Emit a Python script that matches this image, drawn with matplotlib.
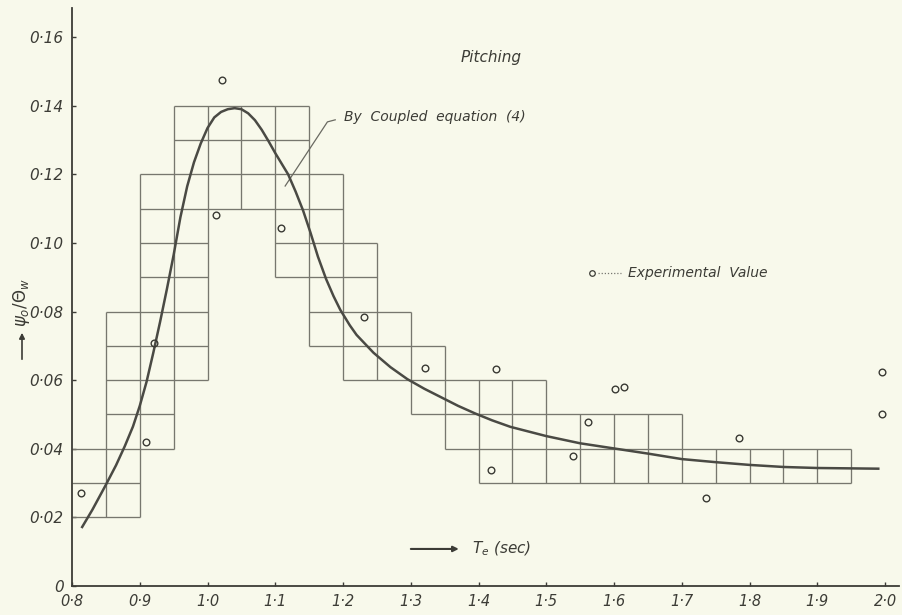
import numpy as np
import matplotlib
matplotlib.use("Agg")
import matplotlib.pyplot as plt

# --- data ---
# theoretical curve (by coupled equation)
curve_x = [0.815, 0.83, 0.85, 0.865, 0.878, 0.89, 0.90, 0.91, 0.92, 0.93,
           0.94, 0.95, 0.96, 0.97, 0.98, 0.99, 1.00, 1.01, 1.02, 1.03,
           1.04, 1.05, 1.06, 1.07, 1.08, 1.09, 1.10, 1.119, 1.13, 1.141,
           1.152, 1.163, 1.175, 1.186, 1.196, 1.21, 1.22, 1.245, 1.27, 1.295,
           1.32, 1.347, 1.37, 1.395, 1.42, 1.447, 1.50, 1.55, 1.60, 1.65,
           1.70, 1.75, 1.80, 1.85, 1.90, 1.99]
curve_y = [0.0172, 0.0222, 0.0295, 0.0352, 0.0408, 0.0465, 0.0525, 0.0595, 0.0680, 0.0770,
           0.0865, 0.0965, 0.1075, 0.1165, 0.1235, 0.1290, 0.1335, 0.1366, 0.1382, 0.1390,
           0.1393, 0.1390, 0.1378, 0.1358, 0.1330, 0.1297, 0.1262, 0.1200, 0.1150, 0.1095,
           0.1030, 0.0960, 0.0895, 0.0845, 0.0805, 0.0760, 0.0732, 0.0680, 0.0638, 0.0603,
           0.0575, 0.0548, 0.0525, 0.0503, 0.0483, 0.0464, 0.0437, 0.0416, 0.0401, 0.0386,
           0.0370, 0.0361, 0.0353, 0.0347, 0.0344, 0.0342]

# experimental values
exp_x = [0.813, 0.909, 0.921, 1.013, 1.022, 1.109, 1.231, 1.321, 1.419, 1.426,
         1.539, 1.561, 1.602, 1.615, 1.736, 1.785, 1.995, 1.995]
exp_y = [0.0271, 0.042, 0.0708, 0.1082, 0.1475, 0.1044, 0.0784, 0.0635, 0.0337, 0.0632,
         0.038, 0.0477, 0.0573, 0.0579, 0.0256, 0.0432, 0.050, 0.0625]

# hand drawn squared blocks: horizontal (y, x0, x1) and vertical (x, y0, y1)
h_lines = [(0.14, 0.95, 1.15), (0.13, 0.95, 1.15), (0.12, 0.90, 1.20), (0.11, 0.90, 1.20),
           (0.10, 0.90, 1.00), (0.09, 0.90, 1.00), (0.10, 1.10, 1.25), (0.09, 1.10, 1.25),
           (0.08, 0.85, 1.00), (0.07, 0.85, 1.00), (0.06, 0.85, 1.00), (0.05, 0.85, 0.95),
           (0.04, 0.80, 0.95), (0.03, 0.80, 0.90), (0.02, 0.80, 0.90),
           (0.08, 1.15, 1.30), (0.07, 1.15, 1.35), (0.06, 1.20, 1.50), (0.05, 1.30, 1.70),
           (0.04, 1.35, 1.95), (0.03, 1.40, 1.95)]
v_lines = [(0.85, 0.02, 0.08), (0.90, 0.02, 0.12), (0.95, 0.04, 0.14), (1.00, 0.06, 0.14),
           (1.05, 0.11, 0.14), (1.10, 0.09, 0.14), (1.15, 0.07, 0.14), (1.20, 0.06, 0.12),
           (1.25, 0.06, 0.10), (1.30, 0.05, 0.08), (1.35, 0.04, 0.07), (1.40, 0.03, 0.06),
           (1.45, 0.03, 0.06), (1.50, 0.03, 0.06), (1.55, 0.03, 0.05), (1.60, 0.03, 0.05),
           (1.65, 0.03, 0.05), (1.70, 0.03, 0.05), (1.75, 0.03, 0.04), (1.80, 0.03, 0.04),
           (1.85, 0.03, 0.04), (1.90, 0.03, 0.04), (1.95, 0.03, 0.04)]

x_ticks = [0.8, 0.9, 1.0, 1.1, 1.2, 1.3, 1.4, 1.5, 1.6, 1.7, 1.8, 1.9, 2.0]
y_ticks = [0, 0.02, 0.04, 0.06, 0.08, 0.10, 0.12, 0.14, 0.16]
x_labels = ["0·8", "0·9", "1·0", "1·1", "1·2", "1·3", "1·4", "1·5", "1·6", "1·7", "1·8", "1·9", "2·0"]
y_labels = ["0", "0·02", "0·04", "0·06", "0·08", "0·10", "0·12", "0·14", "0·16"]

paper = "#f8f9eb"
ink = "#3c3c36"
grid_ink = "#77776e"

fig = plt.figure(figsize=(9.03, 6.15), dpi=100, facecolor=paper)
ax = fig.add_axes([72 / 903, 29 / 615, 826.6 / 903, 578 / 615])
ax.set_facecolor(paper)

# squared blocks
for y, x0, x1 in h_lines:
    ax.hlines(y, x0, x1, color=grid_ink, lw=0.95)
for x, y0, y1 in v_lines:
    ax.vlines(x, y0, y1, color=grid_ink, lw=0.95)

# curve and experimental points
ax.plot(curve_x, curve_y, color="#4a4a44", lw=1.8, zorder=3, solid_joinstyle="round")
ax.plot(exp_x, exp_y, ls="none", marker="o", ms=4.8, mfc="none",
        mec="#3a3a34", mew=1.0, zorder=4)

ax.set_xlim(0.8, 2.02)
ax.set_ylim(0, 0.1685)
ax.set_xticks(x_ticks)
ax.set_xticklabels(x_labels)
ax.set_yticks(y_ticks)
ax.set_yticklabels(y_labels)
ax.tick_params(direction="in", length=3, width=1, colors=ink, labelsize=10.5, pad=6)
ax.tick_params(axis="y", labelsize=11)
for lab in ax.get_xticklabels() + ax.get_yticklabels():
    lab.set_fontstyle("italic")

for side in ["top", "right"]:
    ax.spines[side].set_visible(False)
for side in ["left", "bottom"]:
    ax.spines[side].set_color(ink)
    ax.spines[side].set_linewidth(1.3)

# annotations
ax.text(1.373, 0.154, "Pitching", fontsize=11, style="italic", color=ink, va="center")
ax.text(1.2015, 0.1368, "By  Coupled  equation  (4)", fontsize=10, style="italic",
        color=ink, va="center")
ax.plot([1.1885, 1.177, 1.1146], [0.1359, 0.1353, 0.1166], color="#6a6a62", lw=0.9)

ax.plot([1.567], [0.0913], ls="none", marker="o", ms=4, mfc="none", mec=ink, mew=0.9)
ax.plot([1.576, 1.610], [0.0913, 0.0913], color="#777770", lw=0.9, ls=(0, (1, 1.5)))
ax.text(1.621, 0.0913, "Experimental  Value", fontsize=10, style="italic",
        color=ink, va="center")

ax.annotate("", xy=(1.375, 0.0108), xytext=(1.296, 0.0108),
            arrowprops=dict(arrowstyle="-|>", color=ink, lw=1.5, mutation_scale=8))
ax.text(1.391, 0.0108, r"$T_e$ (sec)", fontsize=11, style="italic", color=ink, va="center")

fig.text(22 / 903, 1 - 303 / 615, r"$\psi_o/\Theta_w$", rotation=90, fontsize=12,
         color=ink, ha="center", va="center")
fig.patches.append(matplotlib.patches.FancyArrowPatch(
    (22 / 903, 1 - 362 / 615), (22 / 903, 1 - 330 / 615), transform=fig.transFigure,
    arrowstyle="-|>", mutation_scale=8, color=ink, lw=1.2))

fig.savefig("out.png", dpi=100, facecolor=paper)
